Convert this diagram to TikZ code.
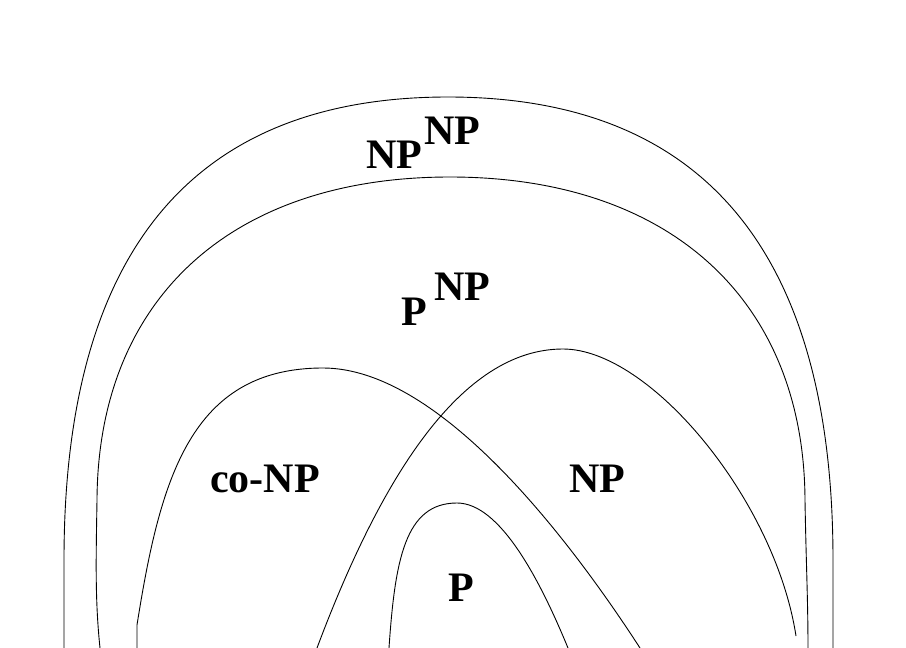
\documentclass[tikz,border=0pt]{standalone}
\usepackage{fontspec}
\setmainfont{Liberation Serif}
\usepackage{tikz}

\begin{document}
\begin{tikzpicture}[x=1pt, y=-1pt, every node/.style={font=\bfseries\fontsize{42}{50}\selectfont, inner sep=0pt}, set/.style={draw, line width=0.9pt}]
	\useasboundingbox (0,0) rectangle (906,648);
	% NP^NP and P^NP
	\draw[set] (64,648) -- (64,560) .. controls (64,280) and (170,97) .. (448,97) .. controls (726,97) and (833,280) .. (833,560) -- (833,648);
	\draw[set] (100,648) .. controls (95,600) and (96,560) .. (97,500) .. controls (98,300) and (230,177) .. (450,177) .. controls (670,177) and (804,300) .. (805,500) .. controls (806,560) and (808,600) .. (808,648);
	% co-NP, NP, P
	\draw[set] (137,648) -- (137,625) .. controls (160,480) and (190,368) .. (323,368) .. controls (440,368) and (570,540) .. (640,648);
	\draw[set] (317,648) .. controls (380,480) and (460,349) .. (563,349) .. controls (650,349) and (775,500) .. (796,636);
	\draw[set] (389,648) .. controls (395,560) and (405,503) .. (457,503) .. controls (500,503) and (540,580) .. (568,648);
	% labels
	\node (npnp) at (394,155) {NP};
	\node (npnpsup) at (452,131) {NP};
	\node (pnp) at (414,312) {P};
	\node (pnpsup) at (462,287) {NP};
	\node (conp) at (265,479) {co-NP};
	\node (np) at (597,479) {NP};
	\node (p) at (461,588) {P};
\end{tikzpicture}
\end{document}
